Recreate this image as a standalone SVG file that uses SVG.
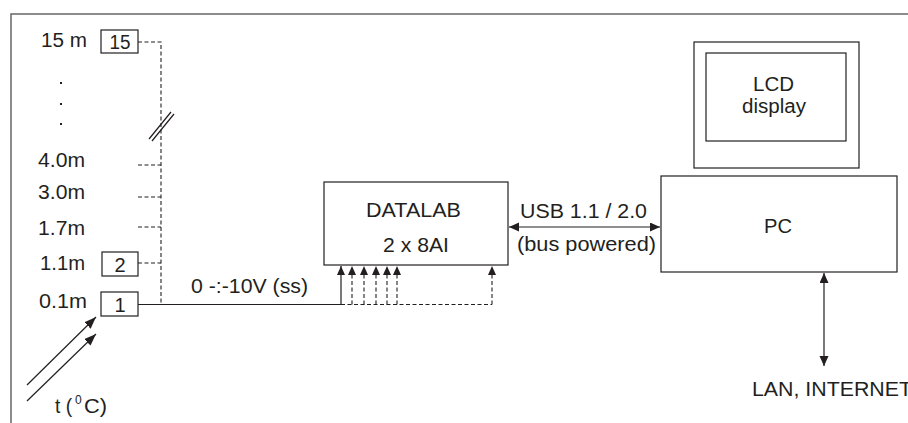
<svg xmlns="http://www.w3.org/2000/svg" width="908" height="423" viewBox="0 0 908 423">
<defs>
<style>
text{font-family:"Liberation Sans",Arial,sans-serif;font-size:20px;fill:#231f20}
.c{text-anchor:middle}
.box{fill:#fff;stroke:#231f20;stroke-width:1.2}
.ln{fill:none;stroke:#231f20;stroke-width:1.2}
.ds{fill:none;stroke:#231f20;stroke-width:1.1;stroke-dasharray:4,2.5}
.frame{fill:none;stroke:#666;stroke-width:1.5}
</style>
<marker id="ah" markerUnits="userSpaceOnUse" markerWidth="11" markerHeight="10" refX="10" refY="4.5" orient="auto-start-reverse" viewBox="0 0 11 10">
<path d="M0,0 L10,4.5 L0,9 z" fill="#231f20"/>
</marker>
<marker id="ahs" markerUnits="userSpaceOnUse" markerWidth="10" markerHeight="9" refX="9" refY="4" orient="auto" viewBox="0 0 10 9">
<path d="M0,0 L9,4 L0,8 z" fill="#231f20"/>
</marker>
<marker id="ahd" markerUnits="userSpaceOnUse" markerWidth="13" markerHeight="10" refX="12" refY="4.5" orient="auto" viewBox="0 0 13 10">
<path d="M0,0 L12,4.5 L0,9 z" fill="#231f20"/>
</marker>
</defs>
<rect x="0" y="0" width="908" height="423" fill="#fff"/>
<path class="frame" d="M11,423 V14 H908"/>

<g id="labels-left">
<text x="41" y="47" textLength="46" lengthAdjust="spacingAndGlyphs">15 m</text>
<rect x="60" y="82" width="2" height="2" fill="#231f20"/>
<rect x="60" y="103" width="2" height="2" fill="#231f20"/>
<rect x="60" y="123" width="2" height="2" fill="#231f20"/>
<text x="38" y="167" textLength="47" lengthAdjust="spacingAndGlyphs">4.0m</text>
<text x="38" y="199" textLength="47" lengthAdjust="spacingAndGlyphs">3.0m</text>
<text x="38" y="235" textLength="47" lengthAdjust="spacingAndGlyphs">1.7m</text>
<text x="40" y="270" textLength="45" lengthAdjust="spacingAndGlyphs">1.1m</text>
<text x="39" y="308" textLength="48" lengthAdjust="spacingAndGlyphs">0.1m</text>
</g>

<g id="sensor15">
<rect class="box" x="101" y="30" width="37" height="23"/>
<text class="c" x="120" y="49" textLength="21" lengthAdjust="spacingAndGlyphs">15</text>
</g>
<g id="sensor2">
<rect class="box" x="102" y="252" width="36" height="24"/>
<text class="c" x="120" y="272">2</text>
</g>
<g id="sensor1">
<rect class="box" x="101" y="292" width="37" height="24"/>
<text class="c" x="120" y="312">1</text>
</g>

<g id="datalab">
<rect class="box" x="324" y="182" width="184" height="83"/>
<text x="366" y="217" textLength="95" lengthAdjust="spacingAndGlyphs">DATALAB</text>
<text x="383" y="252" textLength="66" lengthAdjust="spacingAndGlyphs">2 x 8AI</text>
</g>

<g id="lcd">
<rect class="box" x="694" y="42" width="165" height="126"/>
<rect class="box" x="706" y="53" width="140" height="88"/>
<text x="753" y="91" textLength="41" lengthAdjust="spacingAndGlyphs">LCD</text>
<text x="742" y="113" textLength="64" lengthAdjust="spacingAndGlyphs">display</text>
</g>

<g id="pc">
<rect class="box" x="661" y="176" width="236" height="96"/>
<text x="764" y="233" textLength="28" lengthAdjust="spacingAndGlyphs">PC</text>
</g>

<g id="connectors">
<path class="ds" d="M138,42 H161 V304"/>
<path class="ds" d="M138,165 H161 M138,197 H161 M138,227 H161 M138,263 H161"/>
<path class="ln" d="M149,139 L171,112 M152,141 L174,114" stroke-width="1"/>
<path class="ln" d="M138,304.5 H341 V266" marker-end="url(#ahs)"/>
<path class="ds" d="M341,304.5 H492"/>
<path class="ds" d="M352,304.5 V266" marker-end="url(#ahs)"/>
<path class="ds" d="M364,304.5 V266" marker-end="url(#ahs)"/>
<path class="ds" d="M376,304.5 V266" marker-end="url(#ahs)"/>
<path class="ds" d="M387,304.5 V266" marker-end="url(#ahs)"/>
<path class="ds" d="M397,304.5 V266" marker-end="url(#ahs)"/>
<path class="ds" d="M492,304.5 V266" marker-end="url(#ahs)"/>
<path class="ln" d="M509,227 H660" marker-start="url(#ah)" marker-end="url(#ah)"/>
<path class="ln" d="M824,273 V366" marker-start="url(#ah)" marker-end="url(#ah)"/>
<path class="ln" d="M27,385 L96,317" marker-end="url(#ahd)"/>
<path class="ln" d="M27,401 L96,334" stroke-width="1" marker-end="url(#ahd)"/>
</g>

<g id="text-labels">
<text x="191" y="293" textLength="117" lengthAdjust="spacingAndGlyphs">0 -:-10V (ss)</text>
<text x="520" y="218" textLength="127" lengthAdjust="spacingAndGlyphs">USB 1.1 / 2.0</text>
<text x="517" y="251" textLength="139" lengthAdjust="spacingAndGlyphs">(bus powered)</text>
<text x="752" y="396" textLength="160" lengthAdjust="spacingAndGlyphs">LAN, INTERNET</text>
<text x="55" y="413" textLength="17" lengthAdjust="spacingAndGlyphs">t (</text>
<text x="75" y="404" style="font-size:12px">0</text>
<text x="84" y="413" textLength="23" lengthAdjust="spacingAndGlyphs">C)</text>
</g>
</svg>
